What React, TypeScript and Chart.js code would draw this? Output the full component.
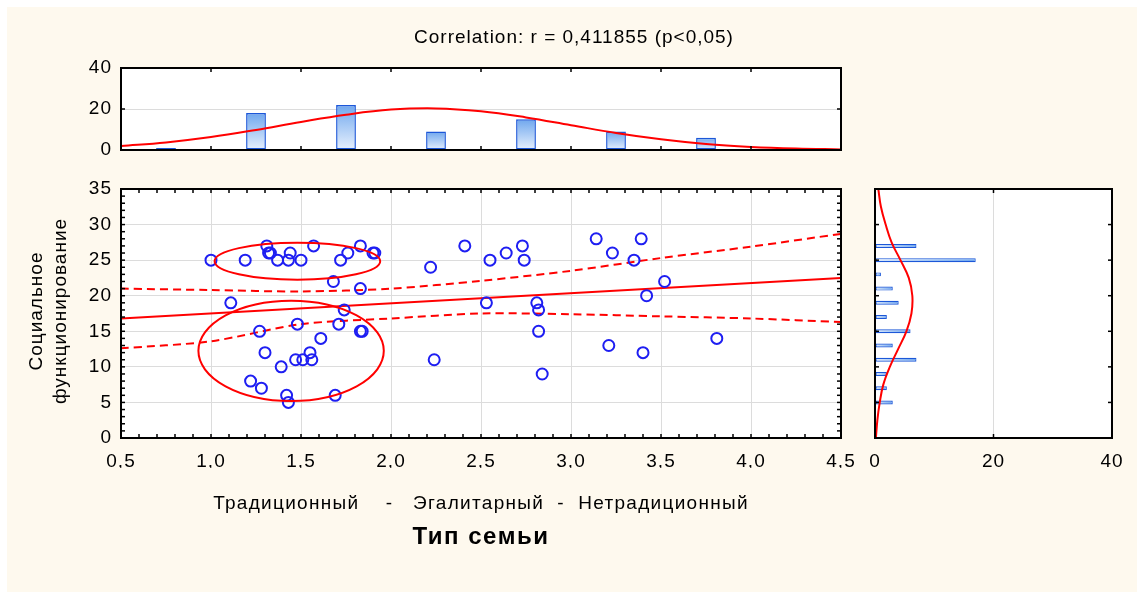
import React, { useEffect, useRef } from 'react';
import { Chart, registerables } from 'chart.js';

Chart.register(...registerables);

// ---------- DATA ----------
// Scatter: family type (x) vs social functioning (y)
const familyType = [
  1.0, 1.19, 1.31, 1.32, 1.33, 1.37, 1.44, 1.43, 1.5, 1.57, 1.72, 1.76, 1.83, 1.9, 1.91,
  1.68, 1.83, 1.11, 1.74, 1.27, 1.48, 1.71, 1.83, 1.84, 1.61, 1.3, 1.55, 1.47, 1.51, 1.56,
  1.39, 1.22, 1.28, 1.42, 1.43, 1.69,
  2.22, 2.41, 2.55, 2.64, 2.73, 2.74, 2.53, 2.81, 2.82, 2.82, 2.24, 2.84,
  3.14, 3.23, 3.35, 3.39, 3.52, 3.42, 3.21, 3.4, 3.81,
];
const socialFunc = [
  25, 25, 27, 26, 26, 25, 26, 25, 25, 27, 25, 26, 27, 26, 26,
  22, 21, 19, 18, 15, 16, 16, 15, 15, 14, 12, 12, 11, 11, 11,
  10, 8, 7, 6, 5, 6,
  24, 27, 25, 26, 27, 25, 19, 19, 18, 15, 11, 9,
  28, 26, 25, 28, 22, 20, 13, 12, 14,
];

// Regression line and its confidence band
const regX = [0.5, 4.5];
const regY = [16.8, 22.5];
const bandX = [0.5, 1.0, 1.5, 2.0, 2.5, 3.0, 3.5, 4.0, 4.5];
const bandUpper = [21.0, 20.8, 20.6, 21.0, 22.1, 23.5, 25.3, 26.9, 28.7];
const bandLower = [12.6, 13.6, 16.0, 16.8, 17.5, 17.4, 17.1, 16.8, 16.3];

// Group ellipses (centre x, centre y, radius x, radius y in data units)
const ellipseCx = [1.48, 1.445];
const ellipseCy = [24.85, 12.25];
const ellipseRx = [0.46, 0.515];
const ellipseRy = [2.6, 7.05];

// Top histogram (x distribution)
const topBinCenters = [0.75, 1.25, 1.75, 2.25, 2.75, 3.25, 3.75];
const topBinCounts = [1, 18, 22, 9, 15, 9, 6];
const topCurveX = [0.5, 0.75, 1.0, 1.25, 1.5, 1.75, 2.0, 2.25, 2.5, 2.75, 3.0, 3.25, 3.5, 3.75, 4.0, 4.25, 4.5];
const topCurveY = [2.0, 3.7, 6.3, 9.8, 13.7, 17.2, 19.7, 20.3, 18.9, 15.9, 12.1, 8.3, 5.2, 2.9, 1.5, 0.7, 0.3];

// Right histogram (y distribution)
const rightBinCenters = [5, 7, 9, 11, 13, 15, 17, 19, 21, 23, 25, 27];
const rightBinCounts = [3, 2, 2, 7, 3, 6, 2, 4, 3, 1, 17, 7];
const rightCurveY = [0, 2.5, 5, 7.5, 10, 12.5, 15, 17.5, 20, 22.5, 25, 27.5, 30, 32.5, 35];
const rightCurveCount = [0.15, 0.4, 0.8, 1.4, 2.5, 3.9, 5.3, 6.15, 6.3, 5.7, 4.3, 2.8, 1.8, 1.0, 0.56];

// Axis tick settings
const mainXTicks = { min: 0.5, max: 4.5, step: 0.5 };
const mainYTicks = { min: 0, max: 35, step: 5 };
const topYTicks = { min: 0, max: 40, step: 20 };
const rightXTicks = { min: 0, max: 40, step: 20 };

// ---------- STYLE ----------
const W = 1137;
const H = 592;
const RED = '#ff0000';
const BLUE = '#1e1ef2';
const GRID = '#dcdcdc';
const CREAM = '#fef9ee';
const BAR_BORDER = '#1c57d8';
const FONT = 'Arial, "Liberation Sans", sans-serif';

Chart.defaults.font.family = FONT;
Chart.defaults.font.size = 19;
Chart.defaults.color = '#000';

const fmtComma = (v: number) => Number(v).toFixed(1).replace('.', ',');

const paperPlugin = {
  id: 'paper',
  beforeDraw(chart: any) {
    const { ctx, chartArea: a } = chart;
    ctx.save();
    ctx.fillStyle = '#ffffff';
    ctx.fillRect(a.left, a.top, a.right - a.left, a.bottom - a.top);
    ctx.restore();
    ctx.letterSpacing = '1px';
  },
};

const framePlugin = {
  id: 'frame',
  afterDraw(chart: any, _args: any, opts: any) {
    const { ctx, chartArea: a } = chart;
    ctx.save();
    ctx.strokeStyle = '#000';
    ctx.lineWidth = 1.5;
    for (const t of (opts && opts.marks) || []) {
      const s = chart.scales[t.scale];
      for (let i = 0; i < 1000; i++) {
        const v = s.min + i * t.step;
        if (v > s.max + 1e-9) break;
        const p = s.getPixelForValue(v);
        ctx.beginPath();
        if (t.side === 'bottom') { ctx.moveTo(p, a.bottom); ctx.lineTo(p, a.bottom - t.len); }
        if (t.side === 'top') { ctx.moveTo(p, a.top); ctx.lineTo(p, a.top + t.len); }
        if (t.side === 'left') { ctx.moveTo(a.left, p); ctx.lineTo(a.left + t.len, p); }
        if (t.side === 'right') { ctx.moveTo(a.right, p); ctx.lineTo(a.right - t.len, p); }
        ctx.stroke();
      }
    }
    ctx.lineWidth = 2;
    ctx.strokeRect(a.left, a.top, a.right - a.left, a.bottom - a.top);
    ctx.restore();
  },
};

const ellipsePlugin = {
  id: 'ellipses',
  afterDatasetsDraw(chart: any) {
    const { ctx, chartArea: a } = chart;
    const xs = chart.scales.x;
    const ys = chart.scales.y;
    ctx.save();
    ctx.beginPath();
    ctx.rect(a.left, a.top, a.right - a.left, a.bottom - a.top);
    ctx.clip();
    ctx.strokeStyle = RED;
    ctx.lineWidth = 2;
    ellipseCx.forEach((cx, i) => {
      const px = xs.getPixelForValue(cx);
      const py = ys.getPixelForValue(ellipseCy[i]);
      const rx = Math.abs(xs.getPixelForValue(cx + ellipseRx[i]) - px);
      const ry = Math.abs(ys.getPixelForValue(ellipseCy[i] + ellipseRy[i]) - py);
      ctx.beginPath();
      ctx.ellipse(px, py, rx, ry, 0, 0, Math.PI * 2);
      ctx.stroke();
    });
    ctx.restore();
  },
};

const baseOptions = {
  responsive: false,
  animation: false as const,
  events: [] as any[],
  plugins: { legend: { display: false }, tooltip: { enabled: false } },
};

function makeMain(canvas: HTMLCanvasElement) {
  return new Chart(canvas, {
    type: 'scatter',
    data: {
      datasets: [
        {
          data: familyType.map((x, i) => ({ x, y: socialFunc[i] })),
          pointRadius: 5.5,
          pointHoverRadius: 5.5,
          pointBorderWidth: 2,
          pointBorderColor: BLUE,
          pointBackgroundColor: 'rgba(0,0,0,0)',
        },
        {
          data: regX.map((x, i) => ({ x, y: regY[i] })),
          showLine: true, pointRadius: 0, borderColor: RED, borderWidth: 2,
        },
        {
          data: bandX.map((x, i) => ({ x, y: bandUpper[i] })),
          showLine: true, pointRadius: 0, borderColor: RED, borderWidth: 2, borderDash: [8, 5], tension: 0.3,
        },
        {
          data: bandX.map((x, i) => ({ x, y: bandLower[i] })),
          showLine: true, pointRadius: 0, borderColor: RED, borderWidth: 2, borderDash: [8, 5], tension: 0.3,
        },
      ] as any,
    },
    options: {
      ...baseOptions,
      layout: { padding: { left: 81, right: 296, top: 189, bottom: 124 } },
      scales: {
        x: {
          type: 'linear', min: mainXTicks.min, max: mainXTicks.max,
          border: { display: false },
          grid: { color: GRID, drawTicks: false },
          ticks: { stepSize: mainXTicks.step, callback: (v: any) => fmtComma(v), padding: 12, autoSkip: false, maxRotation: 0 },
          afterFit: (s: any) => { s.height = 30; },
        },
        y: {
          type: 'linear', min: mainYTicks.min, max: mainYTicks.max,
          border: { display: false },
          grid: { color: GRID, drawTicks: false },
          ticks: { stepSize: mainYTicks.step, padding: 9, autoSkip: false },
          afterFit: (s: any) => { s.width = 40; },
        },
      },
      plugins: {
        ...baseOptions.plugins,
        frame: {
          marks: [
            { scale: 'x', side: 'bottom', step: 0.1, len: 4 },
            { scale: 'x', side: 'top', step: 0.1, len: 4 },
            { scale: 'y', side: 'left', step: 1, len: 4 },
            { scale: 'y', side: 'right', step: 1, len: 4 },
          ],
        },
      } as any,
    } as any,
    plugins: [paperPlugin, ellipsePlugin, framePlugin] as any,
  });
}

function vGradient(c: any) {
  const chart = c.chart;
  if (c.type !== 'data' || !chart.chartArea) return '#9cc3f3';
  const ys = chart.scales.y;
  const top = ys.getPixelForValue(c.raw.y);
  const bottom = ys.getPixelForValue(0);
  const g = chart.ctx.createLinearGradient(0, bottom, 0, Math.min(top, bottom - 1));
  g.addColorStop(0, '#e8f1fd');
  g.addColorStop(1, '#6fa7ee');
  return g;
}

function hGradient(c: any) {
  const chart = c.chart;
  if (c.type !== 'data' || !chart.chartArea) return '#9cc3f3';
  const xs = chart.scales.x;
  const left = xs.getPixelForValue(0);
  const right = xs.getPixelForValue(c.raw.x);
  const g = chart.ctx.createLinearGradient(left, 0, Math.max(right, left + 1), 0);
  g.addColorStop(0, '#dceafc');
  g.addColorStop(1, '#6fa7ee');
  return g;
}

function makeTop(canvas: HTMLCanvasElement) {
  return new Chart(canvas, {
    type: 'bar',
    data: {
      datasets: [
        {
          type: 'line',
          data: topCurveX.map((x, i) => ({ x, y: topCurveY[i] })),
          borderColor: RED, borderWidth: 2, pointRadius: 0, tension: 0.4, fill: false,
        },
        {
          type: 'bar',
          data: topBinCenters.map((x, i) => ({ x, y: topBinCounts[i] })),
          backgroundColor: vGradient,
          borderColor: BAR_BORDER,
          borderWidth: 1.5,
          borderSkipped: false,
          barPercentage: 0.22,
          categoryPercentage: 1,
        },
      ] as any,
    },
    options: {
      ...baseOptions,
      layout: { padding: { left: 81, right: 296, top: 68, bottom: 442 } },
      scales: {
        x: {
          type: 'linear', min: mainXTicks.min, max: mainXTicks.max, display: false, offset: false,
          grid: { offset: false },
          ticks: { stepSize: 0.5 },
        },
        y: {
          type: 'linear', min: topYTicks.min, max: topYTicks.max,
          border: { display: false },
          grid: { color: GRID, drawTicks: false },
          ticks: { stepSize: topYTicks.step, padding: 9 },
          afterFit: (s: any) => { s.width = 40; },
        },
      },
      plugins: {
        ...baseOptions.plugins,
        frame: {
          marks: [
            { scale: 'x', side: 'bottom', step: 0.5, len: 4 },
            { scale: 'x', side: 'top', step: 0.5, len: 4 },
            { scale: 'y', side: 'left', step: 20, len: 4 },
            { scale: 'y', side: 'right', step: 20, len: 4 },
          ],
        },
      } as any,
    } as any,
    plugins: [paperPlugin, framePlugin] as any,
  });
}

function makeRight(canvas: HTMLCanvasElement) {
  return new Chart(canvas, {
    type: 'bar',
    data: {
      datasets: [
        {
          type: 'line',
          indexAxis: 'y',
          data: rightCurveY.map((y, i) => ({ x: rightCurveCount[i], y })),
          borderColor: RED, borderWidth: 2, pointRadius: 0, tension: 0.4, fill: false,
        },
        {
          type: 'bar',
          data: rightBinCenters.map((y, i) => ({ x: rightBinCounts[i], y })),
          backgroundColor: hGradient,
          borderColor: BAR_BORDER,
          borderWidth: 1.2,
          borderSkipped: false,
          barPercentage: 0.28,
          categoryPercentage: 1,
        },
      ] as any,
    },
    options: {
      ...baseOptions,
      indexAxis: 'y',
      layout: { padding: { left: 875, right: 25, top: 189, bottom: 124 } },
      scales: {
        x: {
          type: 'linear', min: rightXTicks.min, max: rightXTicks.max,
          border: { display: false },
          grid: { color: GRID, drawTicks: false },
          ticks: { stepSize: rightXTicks.step, padding: 12, maxRotation: 0 },
          afterFit: (s: any) => { s.height = 30; },
        },
        y: {
          type: 'linear', min: mainYTicks.min, max: mainYTicks.max, display: false, offset: false,
          grid: { offset: false },
          ticks: { stepSize: 5 },
        },
      },
      plugins: {
        ...baseOptions.plugins,
        frame: {
          marks: [
            { scale: 'y', side: 'left', step: 5, len: 4 },
            { scale: 'y', side: 'right', step: 5, len: 4 },
            { scale: 'x', side: 'top', step: 20, len: 4 },
            { scale: 'x', side: 'bottom', step: 20, len: 4 },
          ],
        },
      } as any,
    } as any,
    plugins: [paperPlugin, framePlugin] as any,
  });
}

const canvasStyle: React.CSSProperties = { position: 'absolute', left: 0, top: 0, width: W, height: H };

const textBase: React.CSSProperties = {
  position: 'absolute',
  fontFamily: FONT,
  color: '#000',
  whiteSpace: 'pre',
  letterSpacing: '1px',
};

export default function App() {
  const mainRef = useRef<HTMLCanvasElement>(null);
  const topRef = useRef<HTMLCanvasElement>(null);
  const rightRef = useRef<HTMLCanvasElement>(null);

  useEffect(() => {
    const charts: Chart[] = [];
    if (topRef.current) charts.push(makeTop(topRef.current));
    if (rightRef.current) charts.push(makeRight(rightRef.current));
    if (mainRef.current) charts.push(makeMain(mainRef.current));
    return () => charts.forEach((c) => c.destroy());
  }, []);

  return (
    <div style={{ position: 'absolute', left: 0, top: 0, width: W, height: H, background: '#ffffff', overflow: 'hidden' }}>
      <div style={{ position: 'absolute', left: 7, top: 7, width: W - 7, height: H - 7, background: CREAM }} />
      <canvas ref={topRef} width={W} height={H} style={canvasStyle} />
      <canvas ref={rightRef} width={W} height={H} style={canvasStyle} />
      <canvas ref={mainRef} width={W} height={H} style={canvasStyle} />
      <div style={{ ...textBase, left: 574, top: 27, fontSize: 19, lineHeight: '20px', transform: 'translateX(-50%)' }}>
        Correlation: r = 0,411855 (p&lt;0,05)
      </div>
      <div
        style={{
          ...textBase, left: 48 - 130, top: 311 - 24, width: 260, height: 48, fontSize: 19, lineHeight: '24px',
          textAlign: 'center', transform: 'rotate(-90deg)', transformOrigin: '50% 50%',
        }}
      >
        {'Социальное\nфункционирование'}
      </div>
      <div style={{ ...textBase, left: 481, top: 493, fontSize: 19, lineHeight: '20px', letterSpacing: '1.3px', transform: 'translateX(-50%)' }}>
        {'Традиционный    -   Эгалитарный  -  Нетрадиционный'}
      </div>
      <div style={{ ...textBase, left: 481, top: 523, fontSize: 24, fontWeight: 'bold', lineHeight: '26px', letterSpacing: '1.5px', transform: 'translateX(-50%)' }}>
        Тип семьи
      </div>
    </div>
  );
}
